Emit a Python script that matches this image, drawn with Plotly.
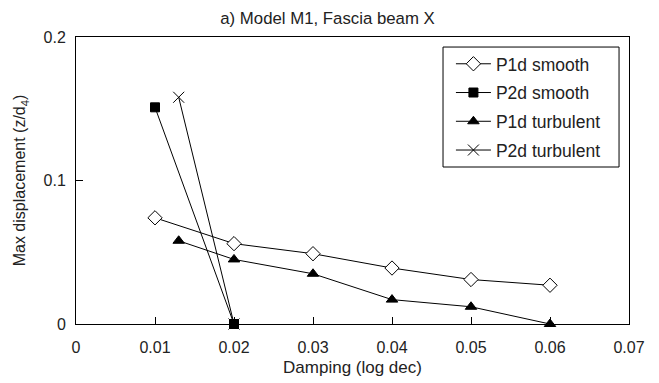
import plotly.graph_objects as go

# Data
p1d_smooth_x = [0.01, 0.02, 0.03, 0.04, 0.05, 0.06]
p1d_smooth_y = [0.074, 0.056, 0.049, 0.039, 0.031, 0.027]
p2d_smooth_x = [0.01, 0.02]
p2d_smooth_y = [0.151, 0.0]
p1d_turb_x = [0.013, 0.02, 0.03, 0.04, 0.05, 0.06]
p1d_turb_y = [0.058, 0.045, 0.035, 0.017, 0.012, 0.0]
p2d_turb_x = [0.013, 0.02]
p2d_turb_y = [0.158, 0.0]

x_ticks = [0, 0.01, 0.02, 0.03, 0.04, 0.05, 0.06, 0.07]
x_tick_labels = ["0", "0.01", "0.02", "0.03", "0.04", "0.05", "0.06", "0.07"]
y_ticks = [0, 0.1, 0.2]
y_tick_labels = ["0", "0.1", "0.2"]

FONT = "Liberation Sans, Arial, sans-serif"

fig = go.Figure()

def add(x, y, name, symbol, size, fill, group):
    fig.add_trace(go.Scatter(
        x=x, y=y, name=name, mode="lines+markers",
        line=dict(color="black", width=1),
        marker=dict(symbol=symbol, size=size, color=fill,
                    line=dict(color="black", width=1)),
        cliponaxis=False, legendgroup=group,
    ))

add(p1d_smooth_x, p1d_smooth_y, "P1d smooth", "diamond", 11, "white", "a")
add(p2d_smooth_x, p2d_smooth_y, "P2d smooth", "square", 9, "black", "b")
add(p1d_turb_x, p1d_turb_y, "P1d turbulent", "triangle-up", 10, "black", "c")
add(p2d_turb_x, p2d_turb_y, "P2d turbulent", "x-thin-open", 11, "black", "d")

axis_common = dict(
    showline=True, linecolor="black", linewidth=1, mirror=True,
    ticks="inside", ticklen=7, tickcolor="black", showgrid=False, zeroline=False,
    tickfont=dict(family=FONT, size=16, color="#222"), automargin=False,
)

# legend frame (drawn as a shape so its size matches the reference)
fig.add_shape(type="rect", xref="paper", yref="paper",
              x0=0.6637, x1=0.982, y0=0.547, y1=0.965,
              line=dict(color="black", width=1), fillcolor="white", layer="below")

fig.update_layout(
    width=659, height=383,
    margin=dict(l=76, r=30, t=37, b=59),
    paper_bgcolor="white", plot_bgcolor="rgba(0,0,0,0)",
    font=dict(family=FONT, size=16, color="#222"),
    title=dict(text="a) Model M1, Fascia beam X", x=0.497, xanchor="center", y=0.953, yanchor="middle",
               font=dict(family=FONT, size=16.8, color="#222"), automargin=False),
    xaxis=dict(range=[0, 0.07], tickvals=x_ticks, ticktext=x_tick_labels, ticklabelstandoff=9,
               title=dict(text="Damping (log dec)", font=dict(family=FONT, size=17), standoff=5),
               **axis_common),
    yaxis=dict(range=[0, 0.2], tickvals=y_ticks, ticktext=y_tick_labels, ticklabelstandoff=6,
               title=dict(text="Max displacement (z/d<sub>4</sub>)", font=dict(family=FONT, size=16), standoff=13),
               **axis_common),
    legend=dict(x=0.678, y=0.969, xanchor="left", yanchor="top",
                borderwidth=0, bgcolor="rgba(0,0,0,0)",
                font=dict(family=FONT, size=17.5, color="#222"),
                itemwidth=35, tracegroupgap=3),
    showlegend=True,
)

fig.write_html("out.html")
